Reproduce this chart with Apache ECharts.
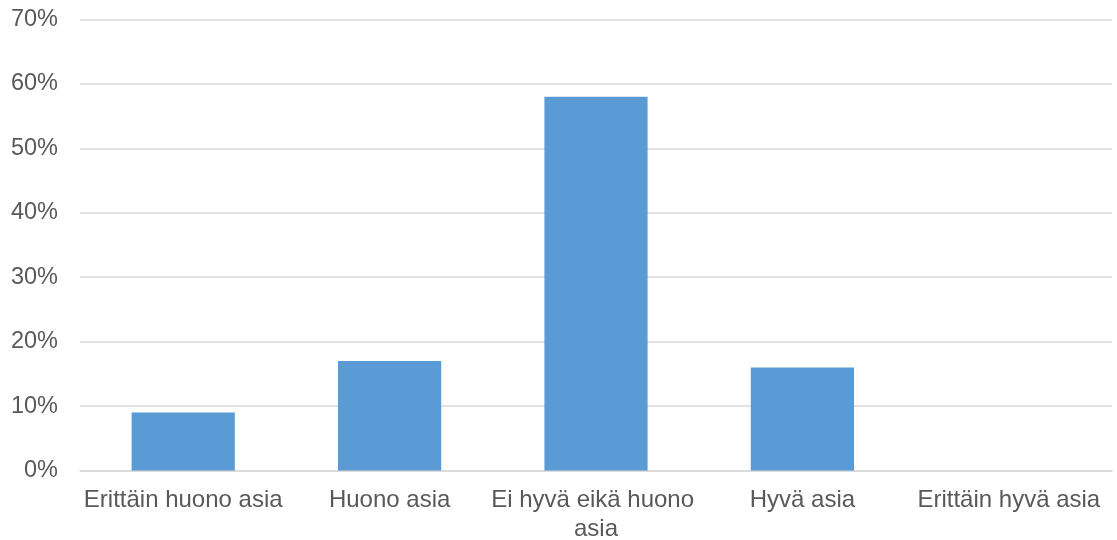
<!DOCTYPE html>
<html>
<head>
<meta charset="utf-8">
<script src="https://cdn.jsdelivr.net/npm/echarts@6/dist/echarts.min.js"></script>
<style>
html,body{margin:0;padding:0;background:#fff;}
#c{width:1117px;height:540px;}
</style>
</head>
<body>
<div id="c"></div>
<script>
const categories = ['Erittäin huono asia', 'Huono asia', 'Ei hyvä eikä huono asia', 'Hyvä asia', 'Erittäin hyvä asia'];
const values = [9, 17, 58, 16, 0];
const yTicks = { min: 0, max: 70, interval: 10 };

const chart = echarts.init(document.getElementById('c'), null, { renderer: 'canvas' });
chart.setOption({
  animation: false,
  backgroundColor: '#ffffff',
  textStyle: { fontFamily: '"Liberation Sans", Arial, sans-serif' },
  grid: { left: 80, right: 5, top: 19.5, bottom: 69.5, containLabel: false, outerBoundsMode: 'none' },
  xAxis: {
    type: 'category',
    data: categories,
    axisLine: { show: true, lineStyle: { color: '#d9d9d9', width: 1.5 } },
    axisTick: { show: false },
    axisLabel: {
      interval: 0,
      hideOverlap: false,
      color: '#595959',
      fontSize: 24,
      fontFamily: '"Liberation Sans", Arial, sans-serif',
      margin: 15,
      width: 236,
      overflow: 'break',
      lineHeight: 29
    }
  },
  yAxis: {
    type: 'value',
    min: yTicks.min,
    max: yTicks.max,
    interval: yTicks.interval,
    axisLine: { show: false },
    axisTick: { show: false },
    splitLine: { lineStyle: { color: '#d9d9d9', width: 1.5 } },
    axisLabel: {
      color: '#595959',
      fontSize: 23.5,
      fontFamily: '"Liberation Sans", Arial, sans-serif',
      margin: 22,
      formatter: v => v + '%'
    }
  },
  series: [{
    type: 'bar',
    data: values,
    barCategoryGap: '50%',
    itemStyle: { color: '#5b9bd5' }
  }]
});
</script>
</body>
</html>
